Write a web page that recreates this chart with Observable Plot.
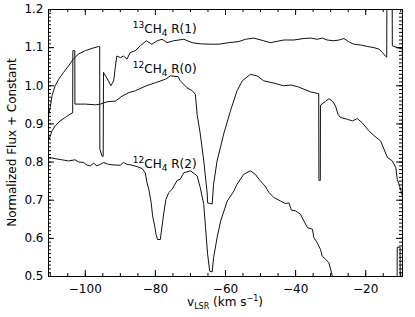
<!DOCTYPE html>
<html><head><meta charset="utf-8">
<script src="https://cdn.jsdelivr.net/npm/d3@7"></script>
<script src="https://cdn.jsdelivr.net/npm/@observablehq/plot@0.6"></script>
<style>body{margin:0;background:#fff} svg{display:block}</style>
</head><body><div id="chart"></div>
<script>
// ---- data ----
const seriesNames = ["13CH4 R(1)", "12CH4 R(0)", "12CH4 R(2)"];

const velA = [-110.4,-110.0,-109.5,-108.6,-107.6,-106.2,-104.8,-103.4,-102.0,-100.0,-98.1,-96.2,-95.9,-95.85,-95.2,-94.9,-94.8,-93.4,-92.7,-91.9,-91.4,-91.0,-90.0,-89.1,-88.1,-87.2,-85.7,-84.3,-82.6,-81.0,-79.5,-78.1,-76.7,-74.8,-71.9,-69.5,-67.2,-64.3,-61.9,-59.1,-56.2,-54.3,-51.9,-49.1,-47.2,-43.4,-40.5,-37.6,-35.7,-33.8,-32.4,-31.0,-29.1,-27.6,-26.2,-24.8,-23.4,-21.4,-19.5,-17.6,-16.2,-15.2,-14.3,-14.0,-13.95,-12.45,-12.4,-11.0,-9.5];
const fluxA = [0.925,0.944,0.974,1.000,1.017,1.035,1.052,1.070,1.083,1.092,1.098,1.103,1.103,0.834,0.815,0.815,1.035,1.013,1.000,1.013,1.052,1.078,1.074,1.078,1.070,1.087,1.092,1.105,1.118,1.109,1.118,1.122,1.113,1.118,1.122,1.113,1.110,1.109,1.109,1.113,1.116,1.122,1.125,1.118,1.113,1.120,1.120,1.124,1.125,1.122,1.125,1.120,1.118,1.120,1.124,1.115,1.109,1.107,1.103,1.100,1.096,1.087,1.077,1.075,1.25,1.25,1.105,1.100,1.096];

const velB = [-110.3,-109.5,-108.6,-107.2,-105.7,-104.3,-103.6,-103.55,-103.0,-102.95,-100.0,-97.0,-95.7,-93.8,-91.4,-89.5,-87.6,-85.7,-82.6,-80.0,-77.2,-75.7,-73.5,-72.9,-71.0,-69.5,-68.6,-68.1,-67.2,-66.2,-65.2,-65.1,-63.8,-63.4,-62.4,-60.5,-58.6,-56.7,-55.2,-52.9,-51.0,-49.1,-46.2,-43.4,-41.4,-39.5,-37.6,-35.7,-33.8,-33.4,-33.35,-32.95,-32.9,-31.4,-30.5,-29.5,-28.6,-27.9,-27.2,-25.2,-23.8,-22.4,-21.0,-19.1,-17.6,-15.7,-14.8,-13.8,-12.4,-11.4,-11.0,-10.2,-9.5];
const fluxB = [0.860,0.882,0.895,0.908,0.917,0.926,0.929,1.092,1.092,0.952,0.952,0.950,0.952,0.958,0.960,0.973,0.982,0.987,1.000,1.008,1.017,1.026,1.024,1.013,0.995,0.987,0.978,0.925,0.874,0.803,0.716,0.693,0.690,0.742,0.803,0.874,0.934,0.987,1.013,1.030,1.026,1.013,1.007,1.000,1.002,0.998,0.991,0.984,0.980,0.980,0.752,0.752,0.949,0.960,0.966,0.960,0.947,0.925,0.917,0.912,0.908,0.914,0.903,0.882,0.869,0.855,0.834,0.812,0.803,0.785,0.755,0.733,0.711];

const velC = [-110.3,-108.6,-106.7,-104.8,-102.9,-101.9,-100.5,-99.5,-98.6,-97.6,-96.7,-95.7,-94.8,-93.4,-91.4,-90.0,-89.1,-88.1,-86.7,-85.2,-83.8,-82.9,-82.4,-81.9,-81.2,-80.8,-80.2,-79.8,-79.4,-78.6,-78.1,-77.6,-77.0,-76.2,-75.2,-73.8,-72.9,-71.9,-70.0,-68.1,-67.2,-66.2,-65.7,-65.1,-64.5,-63.8,-63.4,-62.4,-61.4,-59.5,-57.6,-56.7,-54.8,-52.9,-51.5,-50.1,-48.7,-47.6,-46.2,-44.3,-42.9,-41.9,-41.2,-40.0,-38.6,-37.6,-36.6,-35.2,-34.8,-33.8,-32.9,-32.4,-31.4,-30.5,-30.0,-29.5,-29.0,-11.05,-11.0,-10.2,-10.15,-9.5];
const fluxC = [0.812,0.809,0.806,0.803,0.806,0.800,0.799,0.792,0.790,0.797,0.790,0.794,0.799,0.794,0.792,0.792,0.799,0.794,0.792,0.788,0.783,0.772,0.746,0.729,0.693,0.659,0.632,0.610,0.597,0.597,0.632,0.667,0.702,0.720,0.729,0.752,0.755,0.772,0.777,0.764,0.733,0.689,0.628,0.558,0.514,0.512,0.549,0.602,0.645,0.698,0.724,0.742,0.768,0.777,0.768,0.751,0.737,0.720,0.707,0.698,0.691,0.693,0.674,0.672,0.663,0.645,0.628,0.624,0.602,0.588,0.571,0.553,0.545,0.536,0.519,0.500,0.470,0.470,0.577,0.577,0.470,0.470];

// label anchor positions (data coords) and rich-text parts
const labelX = [-86.3, -86.3, -86.3];
const labelY = [1.138, 1.032, 0.784];
const labelParts = [
  [["13","sup"],["CH","n"],["4","sub"],[" R(1)","n"]],
  [["12","sup"],["CH","n"],["4","sub"],[" R(0)","n"]],
  [["12","sup"],["CH","n"],["4","sub"],[" R(2)","n"]]
];

const xMajor = [-100, -80, -60, -40, -20];
const yMajor = [0.5, 0.6, 0.7, 0.8, 0.9, 1.0, 1.1, 1.2];
const xMinor = d3.range(-110, -9, 5);
const yMinor = d3.range(50, 121).map(d => d / 100);
const xTitle = [["v","n"],["LSR","sub"],[" (km s","n"],["\u22121","sup"],[")","n"]];
const yTitle = "Normalized Flux + Constant";

// ---- build table ----
const rows = [];
[[velA, fluxA], [velB, fluxB], [velC, fluxC]].forEach(([v, f], i) => {
  v.forEach((d, j) => rows.push({s: seriesNames[i], v: d, f: f[j]}));
});

const W = 415, H = 317, ML = 48, MR = 13, MT = 9, MB = 41;
const PW = W - ML - MR, PH = H - MT - MB;

const chart = Plot.plot({
  width: W, height: H,
  marginLeft: ML, marginRight: MR, marginTop: MT, marginBottom: MB,
  style: {fontFamily: "'DejaVu Sans', sans-serif", fontSize: "12px", background: "white", color: "black"},
  x: {domain: [-110.5, -9.5]},
  y: {domain: [0.5, 1.2]},
  marks: [
    Plot.line(rows, {x: "v", y: "f", z: "s", stroke: "#111", strokeWidth: 1, clip: true}),
    Plot.ruleX(xMinor, {insetTop: PH - 3, stroke: "black"}),
    Plot.ruleX(xMinor, {insetBottom: PH - 3, stroke: "black"}),
    Plot.ruleX(xMajor, {insetTop: PH - 6, stroke: "black"}),
    Plot.ruleX(xMajor, {insetBottom: PH - 6, stroke: "black"}),
    Plot.ruleY(yMinor, {insetRight: PW - 3, stroke: "black"}),
    Plot.ruleY(yMinor, {insetLeft: PW - 3, stroke: "black"}),
    Plot.ruleY(yMajor, {insetRight: PW - 6, stroke: "black"}),
    Plot.ruleY(yMajor, {insetLeft: PW - 6, stroke: "black"}),
    Plot.axisX(xMajor, {tickSize: 0, tickPadding: 8, label: null, fontSize: 12,
      tickFormat: d => (d < 0 ? "\u2212" : "") + Math.abs(d)}),
    Plot.axisY(yMajor, {tickSize: 0, tickPadding: 5, label: null, fontSize: 12,
      tickFormat: d => d.toFixed(1)}),
    Plot.frame({stroke: "black"})
  ]
});

document.getElementById("chart").append(chart);

// ---- rich text helpers ----
const svg = d3.select(chart);
const sizes = {n: 12, sup: 9, sub: 9};
const shifts = {n: 0, sup: -5, sub: 3};
function rich(parent, parts, attrs, sz = sizes, sh = shifts) {
  const t = parent.append("text").attr("fill", "black")
    .attr("font-family", "'DejaVu Sans', sans-serif")
    .attr("text-anchor", "start");
  Object.entries(attrs).forEach(([k, v]) => t.attr(k, v));
  let cur = 0;
  parts.forEach(([txt, kind]) => {
    const target = sh[kind];
    t.append("tspan").attr("font-size", sz[kind]).attr("dy", target - cur).text(txt);
    cur = target;
  });
  return t;
}

const sx = chart.scale("x"), sy = chart.scale("y");
const g = svg.append("g");
labelParts.forEach((parts, i) => {
  rich(g, parts, {x: sx.apply(labelX[i]), y: sy.apply(labelY[i])});
});

rich(g, xTitle, {x: ML + PW / 2, y: 306, "text-anchor": "middle"},
  {n: 12, sup: 8, sub: 8}, {n: 0, sup: -5, sub: 3});

g.append("text").attr("fill", "black")
  .attr("font-family", "'DejaVu Sans', sans-serif").attr("font-size", 12)
  .attr("text-anchor", "middle")
  .attr("transform", `translate(16,${MT + PH / 2}) rotate(-90)`)
  .text(yTitle);
</script>
</body></html>
